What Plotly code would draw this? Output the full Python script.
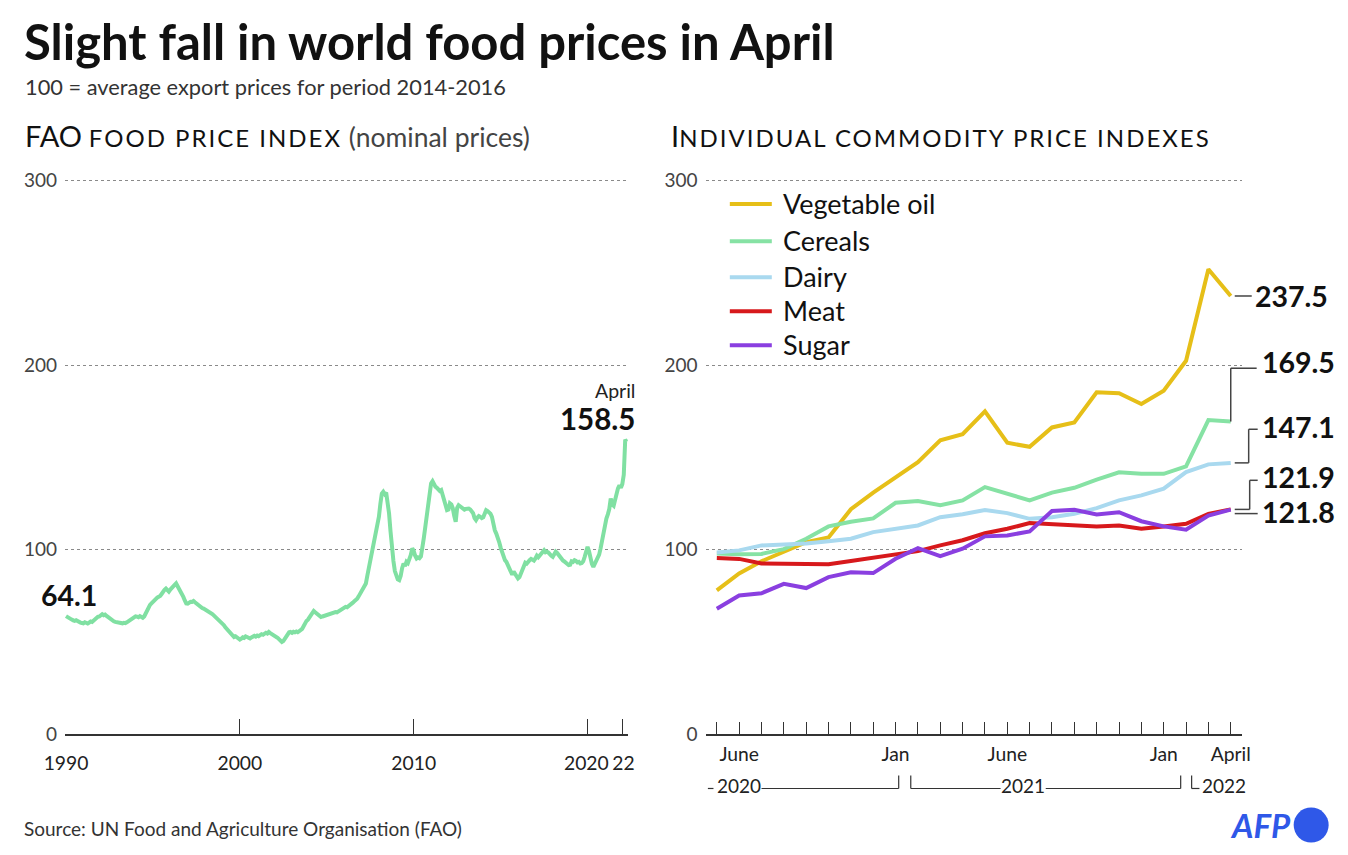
import plotly.graph_objects as go

W, H = 1348, 855
FONT = "Lato"

# ---------------- data ----------------
# FAO Food Price Index (nominal, 2014-2016 = 100), monthly Jan 1990 - Apr 2022
ffpi_1990s = [
    64.1, 63.5, 63.0, 62.8, 62.2, 61.8, 61.5, 61.9, 61.3, 60.9, 60.6, 60.4,
    60.2, 60.8, 60.4, 60.1, 60.6, 61.2, 60.9, 61.8, 62.5, 63.2, 63.7, 63.9,
    64.5, 65.1, 64.6, 64.9, 64.2, 63.5, 63.0, 62.4, 61.8, 61.3, 61.0, 60.8,
    60.6, 60.9, 60.4, 60.2, 60.5, 60.3, 60.7, 61.2, 61.6, 62.3, 62.9, 63.6,
    64.0, 63.8, 63.5, 64.1, 63.7, 63.2, 63.9, 65.5, 68.0, 69.3, 70.2, 71.0,
    71.9, 72.8, 73.4, 74.1, 74.6, 75.0, 76.1, 77.5, 78.3, 79.0, 78.2, 77.4,
    78.5, 79.6, 80.2, 81.0, 81.8, 80.5, 79.2, 78.1, 76.3, 74.5, 72.6, 71.0,
    70.9, 71.5, 71.9, 71.8, 72.3, 71.6, 70.9, 70.2, 69.7, 69.0, 68.5, 68.2,
    67.8, 67.1, 66.6, 66.4, 65.8, 65.2, 64.5, 63.7, 63.1, 62.5, 61.9, 61.2,
    60.3, 59.2, 58.0, 57.1, 56.0, 55.1, 54.2, 53.5, 52.8, 53.2, 52.4, 51.8,
]
ffpi_2000s = [
    51.4, 51.9, 52.6, 52.3, 53.1, 52.8, 52.4, 52.0, 52.6, 53.1, 53.4, 53.0,
    53.6, 53.2, 53.9, 54.3, 54.0, 54.6, 55.1, 54.7, 55.5, 54.9, 54.5, 54.2,
    53.8, 53.1, 52.4, 51.6, 50.8, 50.1, 50.6, 51.8, 53.2, 54.6, 55.3, 55.5,
    55.0, 55.6, 55.3, 55.8, 55.4, 55.9, 56.4, 57.2, 58.6, 60.3, 61.5, 62.2,
    63.5, 64.8, 66.4, 66.9, 66.2, 65.4, 64.6, 64.0, 63.6, 63.9, 64.2, 64.5,
    64.9, 65.2, 65.5, 65.8, 65.6, 65.9, 66.3, 66.1, 66.6, 67.1, 67.5, 68.0,
    68.6, 69.1, 68.9, 69.4, 70.3, 70.8, 71.4, 72.1, 72.7, 73.5, 74.8, 76.2,
    77.4, 78.3, 79.4, 81.8, 86.0, 89.9, 93.6, 98.5, 103.5, 107.8, 111.6, 114.3,
    118.0, 125.0, 130.5, 131.5, 130.2, 131.0, 126.5, 119.7, 110.0, 100.5, 94.0, 88.5,
    85.4, 84.0, 83.6, 85.8, 90.1, 92.6, 91.2, 93.5, 92.8, 94.6, 97.2, 100.8,
]
ffpi_2010s = [
    99.5, 96.8, 95.3, 95.9, 95.5, 96.4, 100.2, 106.5, 112.4, 118.0, 121.5, 129.3,
    136.0, 137.2, 135.3, 134.2, 133.6, 132.8, 131.9, 132.4, 129.8, 126.5, 124.6, 121.5,
    121.8, 125.2, 124.6, 122.5, 118.3, 115.2, 122.8, 124.2, 123.6, 122.9, 122.4, 121.8,
    122.2, 122.6, 122.4, 121.9, 121.0, 119.8, 117.2, 116.1, 117.5, 118.3, 117.9, 117.2,
    117.6, 119.8, 121.5, 121.0, 120.2, 119.6, 117.9, 113.2, 110.6, 108.8, 106.9, 104.2,
    101.2, 98.6, 96.8, 94.4, 93.5, 92.0, 89.9, 88.6, 86.5, 88.2, 86.8, 86.0,
    84.5, 85.2, 86.9, 88.4, 90.7, 93.0, 92.5, 93.9, 94.4, 95.1, 94.7, 94.2,
    95.3, 96.8, 96.0, 96.9, 97.5, 98.8, 99.8, 98.7, 99.0, 98.5, 97.4, 96.8,
    96.2, 97.9, 99.0, 98.3, 97.2, 96.5, 94.8, 94.2, 93.7, 93.0, 92.1, 91.7,
    91.9, 93.8, 93.5, 94.4, 94.0, 93.2, 93.5, 92.6, 92.9, 93.8, 96.2, 99.5,
]
ffpi_2020s = [
    101.6, 99.4, 95.2, 92.4, 90.8, 92.6, 94.0, 95.9, 97.4, 100.8, 105.0, 108.6,
    113.8, 116.9, 119.2, 122.1, 127.8, 124.6, 123.9, 127.5, 129.0, 133.3, 134.9, 133.7,
    135.6, 140.6, 159.7, 158.5,
]
ffpi = ffpi_1990s + ffpi_2000s + ffpi_2010s + ffpi_2020s
ffpi_x = [1990 + m / 12 for m in range(len(ffpi))]

left_tick_vals = [1990, 2000, 2010, 2020, 2022]
left_tick_text = ["1990", "2000", "2010", "2020\u2009", "\u200922"]

# Individual commodity indexes, May 2020 - Apr 2022
months = ["May 2020", "Jun 2020", "Jul 2020", "Aug 2020", "Sep 2020", "Oct 2020",
          "Nov 2020", "Dec 2020", "Jan 2021", "Feb 2021", "Mar 2021", "Apr 2021",
          "May 2021", "Jun 2021", "Jul 2021", "Aug 2021", "Sep 2021", "Oct 2021",
          "Nov 2021", "Dec 2021", "Jan 2022", "Feb 2022", "Mar 2022", "Apr 2022"]
veg_oil = [78.0, 87.2, 93.8, 98.8, 104.2, 106.7, 122.0, 131.0, 139.2, 147.5, 159.3, 162.6,
           175.0, 158.0, 155.8, 166.3, 169.0, 185.3, 184.8, 179.0, 186.2, 202.4, 252.0, 237.5]
cereals = [98.0, 97.6, 97.8, 100.4, 106.0, 112.7, 115.2, 117.0, 125.5, 126.4, 124.2, 126.8,
           134.0, 130.6, 126.8, 131.0, 133.6, 138.0, 142.0, 141.2, 141.2, 145.2, 170.3, 169.5]
dairy = [98.5, 99.7, 102.4, 102.7, 103.4, 104.7, 106.0, 109.6, 111.4, 113.2, 117.7, 119.3,
         121.6, 119.9, 116.8, 117.7, 119.5, 122.6, 126.8, 129.5, 133.1, 142.1, 146.3, 147.1]
meat = [95.6, 95.1, 92.6, 92.5, 92.0, 92.2, 93.9, 95.7, 97.5, 99.3, 102.4, 105.2,
        109.0, 111.4, 114.5, 113.8, 113.2, 112.7, 113.2, 111.4, 112.7, 114.1, 119.5, 121.9]
sugar = [68.1, 75.3, 76.5, 81.6, 79.3, 85.2, 87.9, 87.4, 95.2, 100.9, 96.6, 100.6,
         107.3, 107.8, 110.0, 121.0, 121.7, 119.2, 120.4, 115.5, 112.7, 110.9, 118.6, 121.8]

series_names = ["Vegetable oil", "Cereals", "Dairy", "Meat", "Sugar"]
series_values = [veg_oil, cereals, dairy, meat, sugar]
series_colors = ["#e6bf18", "#86e2a4", "#a9d9ef", "#d7191c", "#8a3fe0"]

right_tick_text = ["", "June", "", "", "", "", "", "", "Jan", "", "", "", "",
                   "June", "", "", "", "", "", "", "Jan", "", "", "April"]
y_ticks = [0, 100, 200, 300]

# ---------------- geometry ----------------
# target (screen) pixel -> layout pixel (the capture shrinks the page slightly)
SX, OX = 0.978, 19.0
SY, OY = 0.976, 9.0


def LX(x):
    return (x - OX) / SX


def LY(y):
    return (y - OY) / SY


def X(x):
    return LX(x) / W


def Y(y):
    return 1 - LY(y) / H


Y_BOT, PX_PER_UNIT, Y_MAX = 734, 1.845, 302
Y_TOP = Y_BOT - Y_MAX * PX_PER_UNIT
L_X0, L_X1 = 63, 626
L_PX_YEAR = 17.39
L_RANGE = (1990 - (64 - L_X0) / L_PX_YEAR, 1990 + (L_X1 - 64) / L_PX_YEAR)
R_X0_IDX, R_PX_MONTH = 715, 22.35
R_RANGE = (-0.5, 23.5)
R_X0 = R_X0_IDX + R_RANGE[0] * R_PX_MONTH
R_X1 = R_X0_IDX + R_RANGE[1] * R_PX_MONTH


def rx(i):
    return R_X0_IDX + i * R_PX_MONTH


def vy(v):
    return Y_BOT - v * PX_PER_UNIT


# ---------------- figure ----------------
fig = go.Figure()

fig.add_trace(go.Scatter(
    x=ffpi_x, y=ffpi, mode="lines", line=dict(color="#80e0a2", width=4),
    xaxis="x", yaxis="y", showlegend=False, hoverinfo="skip"))

idx = list(range(len(months)))
for name, vals, col in zip(series_names, series_values, series_colors):
    fig.add_trace(go.Scatter(
        x=idx, y=vals, mode="lines", name=name, line=dict(color=col, width=4),
        xaxis="x2", yaxis="y2", showlegend=False, text=months))

grid = dict(showgrid=True, gridcolor="#8a8a8a", griddash="dot", gridwidth=1)
axis_line = dict(showline=True, linecolor="#333333", linewidth=2, ticks="inside",
                 tickcolor="#333333", tickwidth=1.3, zeroline=False, showgrid=False,
                 tickangle=0)
yfont = dict(family=FONT, size=19, color="#444444")
xfont = dict(family=FONT, size=19.3, color="#222222")

dom_y = [Y(Y_BOT), Y(Y_TOP)]

fig.update_layout(
    width=W, height=H, margin=dict(l=0, r=0, t=0, b=0),
    paper_bgcolor="white", plot_bgcolor="white",
    font=dict(family=FONT, color="#111111"),
    showlegend=False,
    xaxis=dict(domain=[X(L_X0), X(L_X1)], range=list(L_RANGE), anchor="y",
               tickvals=left_tick_vals, ticktext=left_tick_text, ticklen=15.4,
               tickfont=xfont, ticklabelstandoff=10, **axis_line),
    yaxis=dict(domain=dom_y, range=[0, Y_MAX], anchor="x", tickvals=y_ticks,
               tickfont=yfont, ticklabelstandoff=7, zeroline=False, showline=False,
               ticks="", **grid),
    xaxis2=dict(domain=[X(R_X0), X(R_X1)], range=list(R_RANGE), anchor="y2",
                tickvals=idx, ticktext=right_tick_text, ticklen=12.3,
                tickfont=xfont, ticklabelstandoff=1, **axis_line),
    yaxis2=dict(domain=dom_y, range=[0, Y_MAX], anchor="x2", tickvals=y_ticks,
                tickfont=yfont, ticklabelstandoff=7, zeroline=False, showline=False,
                ticks="", **grid),
    hovermode=False,
)

ann = []
shapes = []


def text(x, y, s, size, color="#111111", xanchor="left", yanchor="middle"):
    ann.append(dict(x=X(x), y=Y(y), xref="paper", yref="paper", text=s, showarrow=False,
                    xanchor=xanchor, yanchor=yanchor,
                    font=dict(family=FONT, size=size, color=color)))


def seg(x0, y0, x1, y1, w=1.5, c="#444444"):
    shapes.append(dict(type="line", xref="paper", yref="paper", x0=X(x0), y0=Y(y0),
                       x1=X(x1), y1=Y(y1), line=dict(color=c, width=w)))


SC = "font-size:24px;letter-spacing:2px"
text(20, 41, "<b>Slight fall in world food prices in April</b>", 49)
text(21, 86, "100 = average export prices for period 2014-2016", 21.8, "#333333")
text(21, 135, f"<span style='font-size:29px'>FAO</span> <span style='{SC}'>FOOD PRICE INDEX</span> "
              "<span style='color:#444444'>(nominal prices)</span>", 26.5)
text(667, 135, f"<span style='font-size:29px'>I</span><span style='{SC}'>NDIVIDUAL COMMODITY PRICE INDEXES</span>", 26.5)
text(20, 828, "Source: UN Food and Agriculture Organisation (FAO)", 19, "#333333")

# legend (drawn to match the original's long line samples)
legend_y = [204, 241, 277, 311, 345]
for name, col, ly in zip(series_names, series_colors, legend_y):
    seg(728, ly, 770, ly, 4, col)
    text(779, ly - 1, name, 27, "#111111")

# left chart value labels
text(635, 390, "April", 19.5, "#222222", xanchor="right")
text(635, 418, f"<b>{ffpi[-1]}</b>", 29.5, xanchor="right")
text(37, 595, f"<b>{ffpi[0]}</b>", 28.5)

# right chart end labels and leader lines
end_x = rx(idx[-1])
label_rows = [368, 429, 480, 512]
LBL_X = 1258
# vegetable oil
seg(end_x + 4, vy(veg_oil[-1]), end_x + 21, vy(veg_oil[-1]))
text(end_x + 22, vy(veg_oil[-1]), f"<b>{veg_oil[-1]}</b>", 28.5)
# cereals
seg(end_x, vy(cereals[-1]), end_x, label_rows[0])
seg(end_x, label_rows[0], LBL_X - 3, label_rows[0])
text(LBL_X, label_rows[0] - 6, f"<b>{cereals[-1]}</b>", 28.5)
# dairy
seg(end_x + 4, vy(dairy[-1]), 1247, vy(dairy[-1]))
seg(1247, vy(dairy[-1]), 1247, label_rows[1])
seg(1247, label_rows[1], LBL_X - 2, label_rows[1])
text(LBL_X, label_rows[1] - 2, f"<b>{dairy[-1]}</b>", 28.5)
# meat
seg(end_x + 4, vy(meat[-1]), 1248, vy(meat[-1]))
seg(1248, vy(meat[-1]), 1248, label_rows[2])
seg(1248, label_rows[2], LBL_X - 2, label_rows[2])
text(LBL_X, label_rows[2] - 3, f"<b>{meat[-1]}</b>", 28.5)
# sugar
seg(end_x + 4, vy(sugar[-1]) + 4, LBL_X - 2, vy(sugar[-1]) + 4)
text(LBL_X, label_rows[3], f"<b>{sugar[-1]}</b>", 28.5)

# year brackets under the right chart
BY, BT, BTXT = 788, 775, 785
YC = "#333333"
seg(rx(-0.4), BY, rx(-0.15), BY, 1.2, YC)
text(rx(0.98), BTXT, "2020", 19, "#222222", xanchor="center")
seg(rx(2.0), BY, rx(8.14), BY, 1.2, YC)
seg(rx(8.14), BY, rx(8.14), BT, 1.2, YC)
seg(rx(8.68), BT, rx(8.68), BY, 1.2, YC)
seg(rx(8.68), BY, rx(12.7), BY, 1.2, YC)
text(rx(13.7), BTXT, "2021", 19, "#222222", xanchor="center")
seg(rx(14.72), BY, rx(20.76), BY, 1.2, YC)
seg(rx(20.76), BY, rx(20.76), BT, 1.2, YC)
seg(rx(21.25), BT, rx(21.25), BY, 1.2, YC)
seg(rx(21.25), BY, rx(21.6), BY, 1.2, YC)
text(rx(22.68), BTXT, "2022", 19, "#222222", xanchor="center")

# AFP logo
AFP_BLUE = "#2f58e8"
text(1259, 824, "<b><i>AFP</i></b>", 33, AFP_BLUE, xanchor="center")
shapes.append(dict(type="circle", xref="paper", yref="paper",
                   x0=X(1292), x1=X(1327), y0=Y(842), y1=Y(807),
                   fillcolor=AFP_BLUE, line=dict(width=0)))

fig.update_layout(annotations=ann, shapes=shapes)
fig.write_html("out.html")
